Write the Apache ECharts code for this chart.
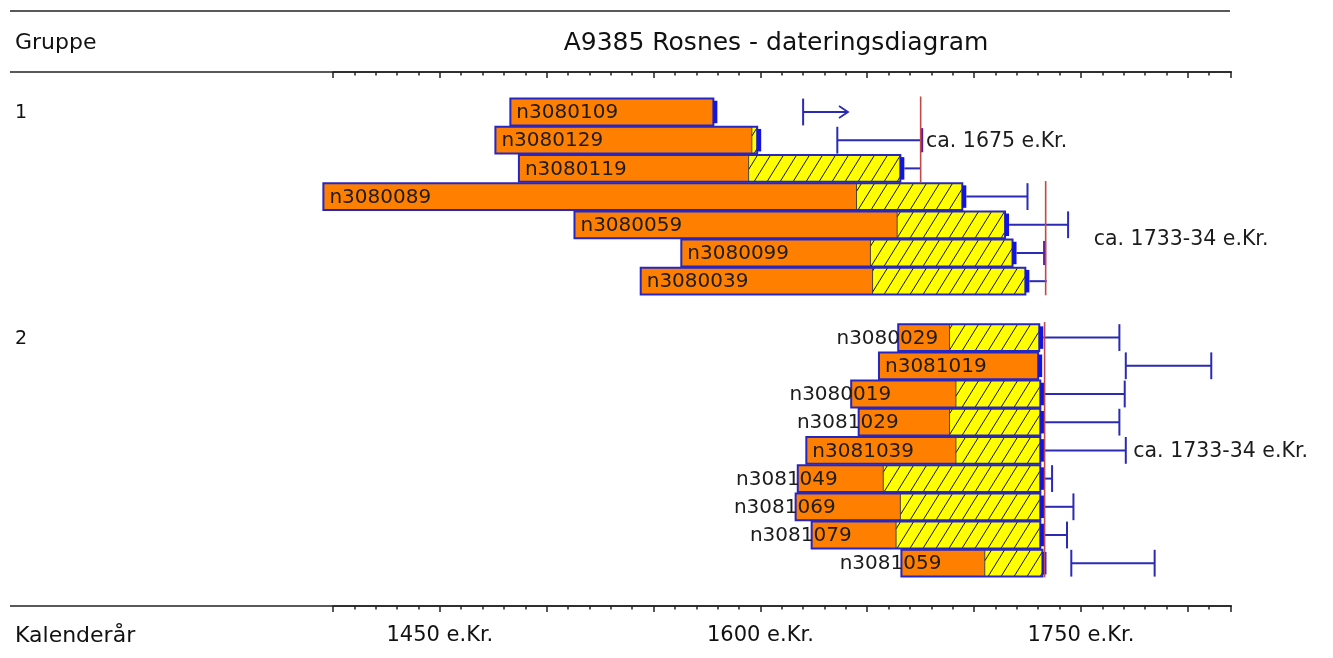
<!DOCTYPE html>
<html><head><meta charset="utf-8">
<script src="https://cdn.jsdelivr.net/npm/echarts@6/dist/echarts.min.js"></script>
<style>html,body{margin:0;padding:0;background:#fff}#c{width:1333px;height:658px}</style>
</head><body><div id="c"></div>
<script>
// ---- data ----
const sampleNames = ['n3080109','n3080129','n3080119','n3080089','n3080059','n3080099','n3080039',
  'n3080029','n3081019','n3080019','n3081029','n3081039','n3081049','n3081069','n3081079','n3081059'];
const sampleGroups = [1,1,1,1,1,1,1, 2,2,2,2,2,2,2,2,2];
const ringStart = [1483,1476,1487,1395.5,1513,1563,1544, 1664.5,1655.5,1642.5,1646,1621.5,1617.5,1616.5,1624,1666];
const sapwoodStart = [null,1596,1594.5,1645,1664,1651.5,1652.5, 1688.5,null,1691.5,1688.5,1691.5,1657.5,1665.5,1663.5,1705];
const ringEnd = [1578,1598.5,1665.5,1694.5,1714.5,1718,1724, 1730.5,1730,1731,1731,1731,1731,1731,1731,1732];
const estimateFrom = [1620,1636,null,null,null,null,null, null,1771,null,null,null,null,null,null,1745.5];
const estimateTo = [1641,1675.5,1675,1725,1744,1733,1734, 1768,1811,1770.5,1768,1771,1736.5,1746.5,1743.5,1784.5];
const estimateEnd = ['arrow','mark','none','tick','tick','mark','none', 'tick','tick','tick','tick','tick','tick','tick','tick','tick'];
const fellingYears = [1675, 1733.5, 1733];
const fellingFirstSample = [0, 3, 7];
const fellingLastSample = [2, 6, 15];
const fellingTexts = ['ca. 1675 e.Kr.', 'ca. 1733-34 e.Kr.', 'ca. 1733-34 e.Kr.'];
const fellingTextYear = [1677.5, 1756, 1774.5];
const fellingTextSample = [1, 4.5, 11];
const groupNames = ['1', '2'];
const axisLabelYears = [1450, 1600, 1750];
const axisMin = 1400, axisMax = 1820;

// ---- helpers ----
function rowOf(i) { // one empty row between the groups
  return i >= 7 ? i + 1 : i;
}
const labelFont = '20px "DejaVu Sans"';
const noteFont = '20.5px "DejaVu Sans"';
const headFont = '"Comic Sans MS","DejaVu Sans"';
const mctx = document.createElement('canvas').getContext('2d');
mctx.font = labelFont;
function textW(t) { return mctx.measureText(t).width; }

const BLUE = '#2626c4', WHISK = '#2a2ab4', RED = '#c44848';

function renderSample(params, api) {
  const i = api.value(3);
  const row = api.value(2);
  const h = api.size([0, 1])[1] * 0.95;
  const p0 = api.coord([ringStart[i], row]);
  const x0 = p0[0], yc = p0[1];
  const x1 = api.coord([ringEnd[i], row])[0];
  const xs = sapwoodStart[i] != null ? api.coord([sapwoodStart[i], row])[0] : x1;
  const y0 = yc - h / 2, y1 = yc + h / 2;
  const ch = [];
  ch.push({type: 'rect', shape: {x: x0, y: y0, width: xs - x0, height: h}, style: {fill: '#ff8000'}});
  if (xs < x1 - 0.5) {
    ch.push({type: 'rect', shape: {x: xs, y: y0, width: x1 - xs, height: h}, style: {fill: '#ffff00'}});
    const k = 0.62, sp = 13;
    const cStart = Math.floor((xs - k * h) / sp) * sp;
    for (let c = cStart; c <= x1; c += sp) {
      let ax = c, ay = y1, bx = c + k * h, by = y0;
      if (bx <= xs || ax >= x1) continue;
      if (ax < xs) { ay = y1 - (xs - c) / k; ax = xs; }
      if (bx > x1) { by = y1 - (x1 - c) / k; bx = x1; }
      ch.push({type: 'line', shape: {x1: ax, y1: ay, x2: bx, y2: by}, style: {stroke: '#111', lineWidth: 1}});
    }
    ch.push({type: 'line', shape: {x1: xs, y1: y0, x2: xs, y2: y1}, style: {stroke: '#444', lineWidth: 1}});
  }
  ch.push({type: 'rect', shape: {x: x0, y: y0, width: x1 - x0, height: h}, style: {fill: null, stroke: BLUE, lineWidth: 2}});
  ch.push({type: 'rect', shape: {x: x1, y: yc - h * 0.42, width: 4, height: h * 0.84}, style: {fill: '#1414e0'}});
  // label
  const name = sampleNames[i];
  const w = textW(name);
  const fits = w + 10 <= xs - x0;
  ch.push({type: 'text', x: fits ? x0 + 6 : x0 + 40, y: yc + 1,
    style: {text: name, font: labelFont, fill: '#1c1c1c', align: fits ? 'left' : 'right', verticalAlign: 'middle'}});
  // estimate range
  const from = estimateFrom[i] != null ? api.coord([estimateFrom[i], row])[0] : x1 + 4;
  const to = api.coord([estimateTo[i], row])[0];
  ch.push({type: 'line', shape: {x1: from, y1: yc, x2: to, y2: yc}, style: {stroke: WHISK, lineWidth: 2}});
  if (estimateFrom[i] != null) {
    ch.push({type: 'line', shape: {x1: from, y1: y0, x2: from, y2: y1}, style: {stroke: WHISK, lineWidth: 2}});
  }
  const m = estimateEnd[i];
  if (m === 'tick') {
    ch.push({type: 'line', shape: {x1: to, y1: y0, x2: to, y2: y1}, style: {stroke: WHISK, lineWidth: 2}});
  } else if (m === 'arrow') {
    ch.push({type: 'polyline', shape: {points: [[to - 9, yc - 6], [to, yc], [to - 9, yc + 6]]}, style: {stroke: WHISK, lineWidth: 1.8, fill: null}});
  } else if (m === 'mark') {
    ch.push({type: 'line', shape: {x1: to, y1: yc - h * 0.45, x2: to, y2: yc + h * 0.45}, style: {stroke: '#5a1e92', lineWidth: 3}});
  }
  return {type: 'group', children: ch};
}

function renderFelling(params, api) {
  const i = api.value(3);
  const x = api.coord([fellingYears[i], 0])[0];
  const yTop = api.coord([0, rowOf(fellingFirstSample[i]) - 0.55])[1];
  const yBot = api.coord([0, rowOf(fellingLastSample[i]) + 0.5])[1];
  const tp = api.coord([fellingTextYear[i], fellingTextSample[i] >= 7 ? fellingTextSample[i] + 1 : fellingTextSample[i]]);
  return {type: 'group', children: [
    {type: 'line', shape: {x1: x, y1: yTop, x2: x, y2: yBot}, style: {stroke: RED, lineWidth: 1.6}},
    {type: 'text', x: tp[0], y: tp[1] + 1, style: {text: fellingTexts[i], font: noteFont, fill: '#1c1c1c', align: 'left', verticalAlign: 'middle'}}
  ]};
}

function renderGroup(params, api) {
  const i = api.value(3);
  const firstIdx = sampleGroups.indexOf(i + 1);
  const y = api.coord([axisMin, rowOf(firstIdx)])[1];
  return {type: 'text', x: 15, y: y + 1, style: {text: groupNames[i], font: '19px ' + headFont, fill: '#111', verticalAlign: 'middle'}};
}

const sampleData = sampleNames.map((n, i) => [ringStart[i], ringEnd[i], rowOf(i), i]);
const fellingData = fellingYears.map((y, i) => [y, y, rowOf(fellingFirstSample[i]), i]);
const groupData = groupNames.map((g, i) => [axisMin, axisMin, rowOf(sampleGroups.indexOf(i + 1)), i]);

const tickStyle = {show: true, interval: 0, length: 6, lineStyle: {color: '#222', width: 1.5}};
const minorStyle = {show: true, splitNumber: 5, length: 3.5, lineStyle: {color: '#222', width: 1.5}};

const chart = echarts.init(document.getElementById('c'), null, {renderer: 'canvas'});
chart.setOption({
  animation: false,
  backgroundColor: '#fff',
  grid: {left: 333, right: 102.5, top: 72, bottom: 52},
  xAxis: [
    {type: 'value', position: 'bottom', min: axisMin, max: axisMax, interval: 50,
      axisLine: {show: true, onZero: false, lineStyle: {color: '#222', width: 1.5}},
      axisTick: Object.assign({inside: false}, tickStyle), minorTick: minorStyle,
      splitLine: {show: false},
      axisLabel: {show: true, margin: 19, fontFamily: headFont, fontSize: 21, color: '#111',
        formatter: v => axisLabelYears.includes(v) ? v + ' e.Kr.' : ''}},
    {type: 'value', position: 'top', min: axisMin, max: axisMax, interval: 50,
      axisLine: {show: true, onZero: false, lineStyle: {color: '#222', width: 1.5}},
      axisTick: Object.assign({inside: true}, tickStyle), minorTick: minorStyle,
      splitLine: {show: false}, axisLabel: {show: false}}
  ],
  yAxis: {type: 'value', inverse: true, min: -1.418, max: 17.518, show: false},
  graphic: [
    {type: 'line', shape: {x1: 10, y1: 11, x2: 1230, y2: 11}, style: {stroke: '#222', lineWidth: 1.5}},
    {type: 'line', shape: {x1: 10, y1: 72, x2: 1232, y2: 72}, style: {stroke: '#222', lineWidth: 1.5}},
    {type: 'line', shape: {x1: 10, y1: 606, x2: 1232, y2: 606}, style: {stroke: '#222', lineWidth: 1.5}},
    {type: 'text', x: 15, y: 43, style: {text: 'Gruppe', font: '22px ' + headFont, fill: '#111', verticalAlign: 'middle'}},
    {type: 'text', x: 776, y: 43, style: {text: 'A9385 Rosnes - dateringsdiagram', font: '25px ' + headFont, fill: '#111', align: 'center', verticalAlign: 'middle'}},
    {type: 'text', x: 15, y: 636, style: {text: 'Kalenderår', font: '22px ' + headFont, fill: '#111', verticalAlign: 'middle'}}
  ],
  series: [
    {type: 'custom', renderItem: renderSample, data: sampleData, encode: {x: [0, 1], y: 2}, clip: false, z: 2},
    {type: 'custom', renderItem: renderFelling, data: fellingData, encode: {x: [0, 1], y: 2}, clip: false, z: 3},
    {type: 'custom', renderItem: renderGroup, data: groupData, encode: {x: [0, 1], y: 2}, clip: false, z: 3}
  ]
});
</script>
</body></html>
